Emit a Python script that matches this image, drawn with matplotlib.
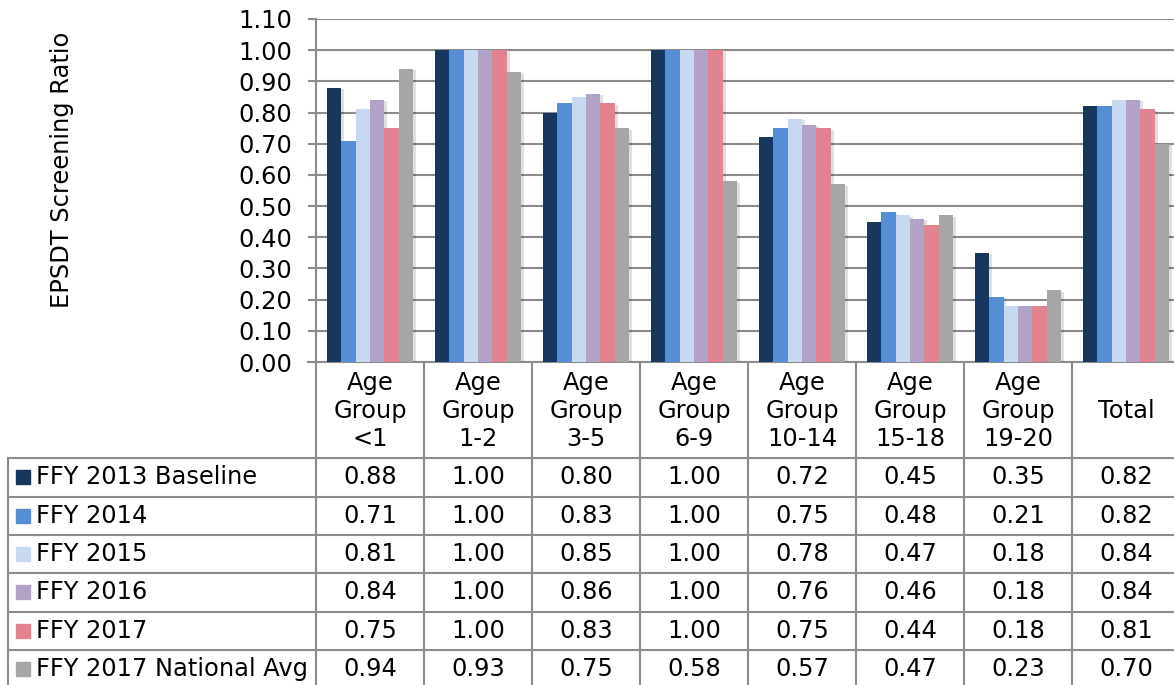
import matplotlib
matplotlib.use("Agg")
import matplotlib.pyplot as plt
import matplotlib.transforms as mtransforms
import matplotlib.patheffects as pe
import numpy as np

# datos
categories = ["Age\nGroup\n<1", "Age\nGroup\n1-2", "Age\nGroup\n3-5", "Age\nGroup\n6-9",
              "Age\nGroup\n10-14", "Age\nGroup\n15-18", "Age\nGroup\n19-20", "Total"]
series_names = ["FFY 2013 Baseline", "FFY 2014", "FFY 2015", "FFY 2016", "FFY 2017",
                "FFY 2017 National Avg"]
ffy2013 = [0.88, 1.00, 0.80, 1.00, 0.72, 0.45, 0.35, 0.82]
ffy2014 = [0.71, 1.00, 0.83, 1.00, 0.75, 0.48, 0.21, 0.82]
ffy2015 = [0.81, 1.00, 0.85, 1.00, 0.78, 0.47, 0.18, 0.84]
ffy2016 = [0.84, 1.00, 0.86, 1.00, 0.76, 0.46, 0.18, 0.84]
ffy2017 = [0.75, 1.00, 0.83, 1.00, 0.75, 0.44, 0.18, 0.81]
national = [0.94, 0.93, 0.75, 0.58, 0.57, 0.47, 0.23, 0.70]
all_series = [ffy2013, ffy2014, ffy2015, ffy2016, ffy2017, national]
colors = ["#17375E", "#558ED5", "#C6D9F1", "#B3A2C7", "#E3828F", "#A6A6A6"]

W, H = 1174, 685
FS = 17.4
GRID = "#8c8c8c"
plt.rcParams["font.family"] = ["DejaVu Sans"]

fig = plt.figure(figsize=(W / 100, H / 100), dpi=100)

# ejes principales (se salen un poco por la derecha como en el original)
ax = fig.add_axes([316 / W, (H - 362) / H, 864 / W, (362 - 19) / H])
n = len(all_series)
bw = 0.8 / n
x = np.arange(len(categories))
shadow = [pe.SimplePatchShadow(offset=(2, -1), shadow_rgbFace="k", alpha=0.12), pe.Normal()]
for j, vals in enumerate(all_series):
    ax.bar(x - 0.4 + bw * (j + 0.5), vals, width=bw, color=colors[j], zorder=3,
           path_effects=shadow)

ax.set_xlim(-0.5, len(categories) - 0.5)
ax.set_ylim(0, 1.1)
ax.set_yticks(np.arange(0, 1.101, 0.1))
ax.set_yticklabels([f"{v:.2f}" for v in np.arange(0, 1.101, 0.1)])
ax.yaxis.grid(True, color=GRID, lw=1.5)
ax.set_axisbelow(True)
ax.set_xticks([])
ax.tick_params(axis="y", length=6, width=1.5, color=GRID, pad=11, labelsize=FS)
for s in ["top", "right"]:
    ax.spines[s].set_visible(False)
for s in ["left", "bottom"]:
    ax.spines[s].set_color(GRID)
    ax.spines[s].set_linewidth(1.5)

fig.text(62 / W, 1 - 170 / H, "EPSDT Screening Ratio", rotation=90,
         ha="center", va="center", fontsize=FS)

# tabla de datos debajo del grafico
tab = fig.add_axes([0, 0, 1, 1], facecolor="none")
tab.set_xlim(0, W)
tab.set_ylim(H, 0)
tab.axis("off")
tr = mtransforms.blended_transform_factory(ax.transData, tab.transData)

head_top, head_bot, row_h = 362, 458.3, 38.3
# extension de la linea base hacia la izquierda
tab.plot([308, 316], [head_top, head_top], color=GRID, lw=1.5, clip_on=False)
for k in range(len(categories) + 1):
    tab.plot([k - 0.5, k - 0.5], [head_top, H + 5], color=GRID, lw=1.5,
             transform=tr, clip_on=False)
for i, cat in enumerate(categories):
    tab.text(i, (head_top + head_bot) / 2 + 1, cat, transform=tr, ha="center", va="center",
             fontsize=FS, linespacing=1.22)

tab.plot([8, 8], [head_bot, H + 5], color=GRID, lw=1.5, clip_on=False)
for r in range(n + 1):
    y = head_bot + r * row_h
    tab.plot([8, W + 10], [y, y], color=GRID, lw=1.5, clip_on=False)
for r, (name, vals) in enumerate(zip(series_names, all_series)):
    yc = head_bot + (r + 0.5) * row_h
    tab.add_patch(plt.Rectangle((16, yc - 7), 14, 14, color=colors[r]))
    tab.text(36, yc, name, ha="left", va="center", fontsize=FS)
    for i, v in enumerate(vals):
        tab.text(i, yc, f"{v:.2f}", transform=tr, ha="center", va="center", fontsize=FS)

fig.savefig("out.png", dpi=100)
